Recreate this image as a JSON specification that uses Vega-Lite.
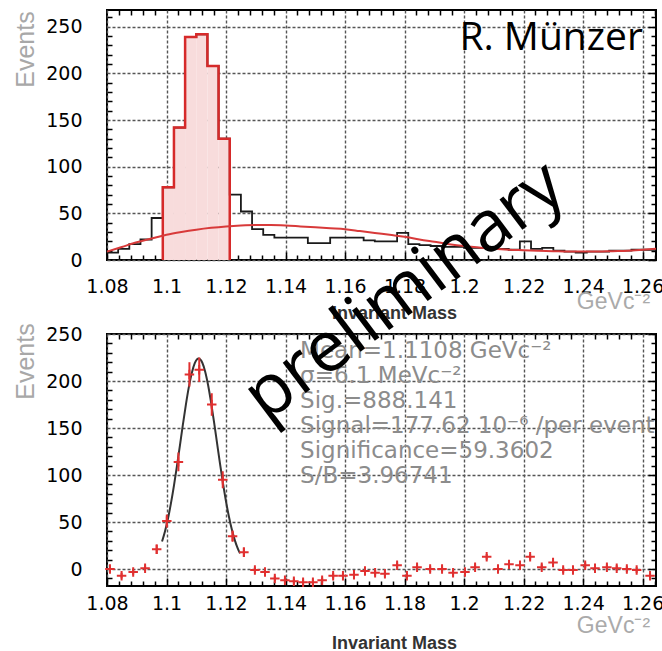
{
  "$schema": "https://vega.github.io/schema/vega-lite/v6.json",
  "padding": {"left": 12, "top": 7, "right": 0, "bottom": 0},
  "background": "white",
  "bounds": "flush",
  "spacing": 74,
  "config": {
    "font": "Liberation Sans",
    "view": {"stroke": "#000", "strokeWidth": 2},
    "axis": {
      "labelFont": "DejaVu Sans", "labelFontSize": 19, "labelColor": "#000",
      "ticks": true, "tickSize": 0,
      "domain": false, "labelFlush": false, "labelOverlap": false,
      "titleFont": "Liberation Sans"
    }
  },
  "datasets": {
    "hist": [
      {"x": 1.08, "n": 8}, {"x": 1.08375, "n": 12}, {"x": 1.0875, "n": 17}, {"x": 1.09125, "n": 22},
      {"x": 1.095, "n": 45}, {"x": 1.09875, "n": 78}, {"x": 1.1025, "n": 142}, {"x": 1.10625, "n": 239},
      {"x": 1.11, "n": 242}, {"x": 1.11375, "n": 208}, {"x": 1.1175, "n": 130}, {"x": 1.12125, "n": 70},
      {"x": 1.125, "n": 52}, {"x": 1.12875, "n": 33}, {"x": 1.1325, "n": 27}, {"x": 1.13625, "n": 24},
      {"x": 1.14, "n": 24}, {"x": 1.14375, "n": 24}, {"x": 1.1475, "n": 18}, {"x": 1.15125, "n": 18},
      {"x": 1.155, "n": 24}, {"x": 1.15875, "n": 24}, {"x": 1.1625, "n": 24}, {"x": 1.16625, "n": 21},
      {"x": 1.17, "n": 20}, {"x": 1.17375, "n": 20}, {"x": 1.1775, "n": 29}, {"x": 1.18125, "n": 17},
      {"x": 1.185, "n": 16}, {"x": 1.18875, "n": 15}, {"x": 1.1925, "n": 14}, {"x": 1.19625, "n": 14},
      {"x": 1.2, "n": 13}, {"x": 1.20375, "n": 13}, {"x": 1.2075, "n": 12}, {"x": 1.21125, "n": 12},
      {"x": 1.215, "n": 11}, {"x": 1.21875, "n": 20}, {"x": 1.2225, "n": 12}, {"x": 1.22625, "n": 13},
      {"x": 1.23, "n": 10}, {"x": 1.23375, "n": 9}, {"x": 1.2375, "n": 8}, {"x": 1.24125, "n": 9},
      {"x": 1.245, "n": 9}, {"x": 1.24875, "n": 10}, {"x": 1.2525, "n": 10}, {"x": 1.25625, "n": 11},
      {"x": 1.26, "n": 11}, {"x": 1.2645, "n": 11}
    ],
    "sig": [
      {"i": 0, "x": 1.09875, "n": 0}, {"i": 1, "x": 1.09875, "n": 78}, {"i": 2, "x": 1.1025, "n": 142},
      {"i": 3, "x": 1.10625, "n": 239}, {"i": 4, "x": 1.11, "n": 242}, {"i": 5, "x": 1.11375, "n": 208},
      {"i": 6, "x": 1.1175, "n": 130}, {"i": 7, "x": 1.12125, "n": 0}
    ],
    "fit": [
      {"x": 1.08, "n": 9}, {"x": 1.085, "n": 14}, {"x": 1.09, "n": 19}, {"x": 1.095, "n": 23},
      {"x": 1.1, "n": 27}, {"x": 1.105, "n": 30}, {"x": 1.11, "n": 32.5}, {"x": 1.115, "n": 34.5},
      {"x": 1.12, "n": 36}, {"x": 1.125, "n": 37}, {"x": 1.13, "n": 37.5}, {"x": 1.135, "n": 37.5},
      {"x": 1.14, "n": 37}, {"x": 1.145, "n": 36}, {"x": 1.15, "n": 35}, {"x": 1.155, "n": 34},
      {"x": 1.16, "n": 33}, {"x": 1.165, "n": 31}, {"x": 1.17, "n": 29}, {"x": 1.175, "n": 27},
      {"x": 1.18, "n": 25}, {"x": 1.185, "n": 22}, {"x": 1.19, "n": 19.5}, {"x": 1.195, "n": 17},
      {"x": 1.2, "n": 15}, {"x": 1.205, "n": 13.5}, {"x": 1.21, "n": 12}, {"x": 1.215, "n": 11},
      {"x": 1.22, "n": 10.5}, {"x": 1.225, "n": 10}, {"x": 1.23, "n": 9.5}, {"x": 1.235, "n": 9},
      {"x": 1.24, "n": 9}, {"x": 1.245, "n": 9}, {"x": 1.25, "n": 9.5}, {"x": 1.255, "n": 10},
      {"x": 1.26, "n": 11}, {"x": 1.2645, "n": 12}
    ],
    "pts": [
      {"x": 1.081, "n": 0, "err": 3}, {"x": 1.0849, "n": -7, "err": 3}, {"x": 1.0888, "n": -3, "err": 3},
      {"x": 1.0928, "n": 1, "err": 3}, {"x": 1.0967, "n": 21, "err": 5}, {"x": 1.1001, "n": 51, "err": 7},
      {"x": 1.104, "n": 114, "err": 10}, {"x": 1.1077, "n": 207, "err": 13}, {"x": 1.111, "n": 212, "err": 13},
      {"x": 1.1152, "n": 175, "err": 12}, {"x": 1.1189, "n": 95, "err": 9}, {"x": 1.1222, "n": 35, "err": 6},
      {"x": 1.126, "n": 18, "err": 5}, {"x": 1.1297, "n": -1, "err": 3}, {"x": 1.1331, "n": -3, "err": 3},
      {"x": 1.1364, "n": -10, "err": 3}, {"x": 1.1398, "n": -12, "err": 3}, {"x": 1.1428, "n": -13, "err": 3},
      {"x": 1.1459, "n": -14, "err": 3}, {"x": 1.1492, "n": -14, "err": 3}, {"x": 1.1523, "n": -12, "err": 3},
      {"x": 1.156, "n": -7, "err": 3}, {"x": 1.1593, "n": -7, "err": 3}, {"x": 1.163, "n": -6, "err": 3},
      {"x": 1.1667, "n": -2, "err": 3}, {"x": 1.1701, "n": -4, "err": 3}, {"x": 1.1734, "n": -5, "err": 3},
      {"x": 1.1775, "n": 4, "err": 3}, {"x": 1.1808, "n": -7, "err": 3}, {"x": 1.1842, "n": 2, "err": 3},
      {"x": 1.1886, "n": 0, "err": 3}, {"x": 1.1926, "n": 0, "err": 3}, {"x": 1.1963, "n": -4, "err": 3},
      {"x": 1.2003, "n": -3, "err": 3}, {"x": 1.2037, "n": 2, "err": 3}, {"x": 1.2076, "n": 13, "err": 3},
      {"x": 1.2114, "n": 0, "err": 3}, {"x": 1.2151, "n": 5, "err": 3}, {"x": 1.2188, "n": 4, "err": 3},
      {"x": 1.2222, "n": 13, "err": 3}, {"x": 1.2261, "n": 2, "err": 3}, {"x": 1.2299, "n": 7, "err": 3},
      {"x": 1.2333, "n": -1, "err": 3}, {"x": 1.2366, "n": -1, "err": 3}, {"x": 1.2407, "n": 4, "err": 3},
      {"x": 1.244, "n": 1, "err": 3}, {"x": 1.248, "n": 2, "err": 3}, {"x": 1.2513, "n": 1, "err": 3},
      {"x": 1.2547, "n": 0, "err": 3}, {"x": 1.258, "n": -1, "err": 3}, {"x": 1.2625, "n": -7, "err": 3}
    ],
    "gaus": [
      {"x": 1.0985, "n": 29.3}, {"x": 1.0995, "n": 40.3}, {"x": 1.1005, "n": 53.8}, {"x": 1.1015, "n": 70.1},
      {"x": 1.1025, "n": 88.8}, {"x": 1.1035, "n": 109.5}, {"x": 1.1045, "n": 131.4}, {"x": 1.1055, "n": 153.6},
      {"x": 1.1065, "n": 174.7}, {"x": 1.1075, "n": 193.5}, {"x": 1.1085, "n": 208.6}, {"x": 1.1095, "n": 219},
      {"x": 1.1108, "n": 224}, {"x": 1.112, "n": 219.7}, {"x": 1.113, "n": 209.9}, {"x": 1.114, "n": 195.2},
      {"x": 1.115, "n": 176.7}, {"x": 1.116, "n": 155.8}, {"x": 1.117, "n": 133.7}, {"x": 1.118, "n": 111.6},
      {"x": 1.119, "n": 90.8}, {"x": 1.12, "n": 71.9}, {"x": 1.121, "n": 55.4}, {"x": 1.122, "n": 41.5},
      {"x": 1.123, "n": 30.3}, {"x": 1.124, "n": 21.5}, {"x": 1.1247, "n": 16.7}
    ],
    "one": [{}]
  },
  "vconcat": [
    {
      "width": 549, "height": 250,
      "resolve": {"axis": {"x": "independent", "y": "independent"}},
      "layer": [
        {
          "data": {"name": "sig"},
          "mark": {"type": "area", "interpolate": "step-after", "color": "#f8dcdc"},
          "encoding": {
            "order": {"field": "i"},
            "x": {"field": "x", "type": "quantitative",
              "scale": {"domain": [1.08, 1.2645], "nice": false, "zero": false},
              "axis": {
                "orient": "bottom",
                "values": [1.08,1.084,1.088,1.092,1.096,1.1,1.104,1.108,1.112,1.116,1.12,1.124,1.128,1.132,1.136,1.14,1.144,1.148,1.152,1.156,1.16,1.164,1.168,1.172,1.176,1.18,1.184,1.188,1.192,1.196,1.2,1.204,1.208,1.212,1.216,1.22,1.224,1.228,1.232,1.236,1.24,1.244,1.248,1.252,1.256,1.26,1.264],
                "labelExpr": "abs(datum.value*50-round(datum.value*50))<0.001 ? format(datum.value,'~g') : ''",
                "grid": true,
                "gridDash": {"condition": {"test": "abs(datum.value*50-round(datum.value*50))<0.001", "value": [3, 2]}, "value": [5, 2000]},
                "gridColor": {"condition": {"test": "abs(datum.value*50-round(datum.value*50))<0.001", "value": "#555"}, "value": "#000"},
                "gridWidth": {"condition": {"test": "abs(datum.value*50-round(datum.value*50))<0.001", "value": 1.4}, "value": 1.5},
                "labelPadding": 17,
                "title": "Invariant Mass", "titleFontWeight": "bold", "titleFontSize": 18, "titleColor": "#333",
                "titleX": 287, "titleY": 53, "titleBaseline": "middle", "titleAlign": "center"
              }
            },
            "y": {"field": "n", "type": "quantitative",
              "scale": {"domain": [0, 268], "nice": false, "zero": false},
              "axis": {
                "orient": "left",
                "values": [0,10,20,30,40,50,60,70,80,90,100,110,120,130,140,150,160,170,180,190,200,210,220,230,240,250,260],
                "labelExpr": "datum.value % 50 == 0 ? format(datum.value,'d') : ''",
                "grid": true,
                "gridDash": {"condition": {"test": "datum.value % 50 == 0", "value": [3, 2]}, "value": [5, 2000]},
                "gridColor": {"condition": {"test": "datum.value % 50 == 0", "value": "#555"}, "value": "#000"},
                "gridWidth": {"condition": {"test": "datum.value % 50 == 0", "value": 1.4}, "value": 1.5},
                "labelPadding": 25,
                "title": "Events", "titleFontWeight": "normal", "titleFontSize": 25, "titleColor": "#a8a8a8",
                "titleX": -82, "titleY": 39, "titleAngle": 270, "titleAlign": "center", "titleBaseline": "middle"
              }
            }
          }
        },
        {
          "data": {"name": "hist"},
          "mark": {"type": "line", "interpolate": "step-after", "color": "#1a1a1a", "strokeWidth": 1.8},
          "encoding": {
            "x": {"field": "x", "type": "quantitative", "axis": null},
            "y": {"field": "n", "type": "quantitative", "axis": null}
          }
        },
        {
          "data": {"name": "sig"},
          "mark": {"type": "line", "interpolate": "step-after", "color": "#d62a2a", "strokeWidth": 2.5},
          "encoding": {
            "order": {"field": "i"},
            "x": {"field": "x", "type": "quantitative", "axis": null},
            "y": {"field": "n", "type": "quantitative", "axis": null}
          }
        },
        {
          "data": {"name": "fit"},
          "mark": {"type": "line", "interpolate": "monotone", "color": "#d83a3a", "strokeWidth": 2},
          "encoding": {
            "x": {"field": "x", "type": "quantitative",
              "axis": {"orient": "top", "labels": false, "title": null, "grid": true, "gridColor": "#000", "gridWidth": 1.5,
                "gridDash": {"condition": {"test": "abs(datum.value*50-round(datum.value*50))<0.001", "value": [8, 2000]}, "value": [5, 2000]},
                "values": [1.08,1.084,1.088,1.092,1.096,1.1,1.104,1.108,1.112,1.116,1.12,1.124,1.128,1.132,1.136,1.14,1.144,1.148,1.152,1.156,1.16,1.164,1.168,1.172,1.176,1.18,1.184,1.188,1.192,1.196,1.2,1.204,1.208,1.212,1.216,1.22,1.224,1.228,1.232,1.236,1.24,1.244,1.248,1.252,1.256,1.26,1.264]}},
            "y": {"field": "n", "type": "quantitative",
              "axis": {"orient": "right", "labels": false, "title": null, "grid": true, "gridColor": "#000", "gridWidth": 1.5,
                "gridDash": {"condition": {"test": "datum.value % 50 == 0", "value": [8, 2000]}, "value": [5, 2000]},
                "values": [0,10,20,30,40,50,60,70,80,90,100,110,120,130,140,150,160,170,180,190,200,210,220,230,240,250,260]}}
          }
        },
        {
          "data": {"name": "one"},
          "mark": {"type": "text", "text": "R. Münzer", "font": "Open Sans", "fontSize": 39, "align": "right", "baseline": "alphabetic", "color": "#000"},
          "encoding": {
            "x": {"datum": 1.2601, "type": "quantitative", "axis": null},
            "y": {"datum": 225, "type": "quantitative", "axis": null}
          }
        },
        {
          "data": {"name": "one"},
          "mark": {"type": "text", "text": "GeVc⁻²", "font": "Liberation Sans", "fontSize": 23, "align": "right", "baseline": "alphabetic", "color": "#aaaaaa"},
          "encoding": {
            "x": {"datum": 1.2625, "type": "quantitative", "axis": null},
            "y": {"datum": -52.5, "type": "quantitative", "axis": null}
          }
        }
      ]
    },
    {
      "width": 549, "height": 252,
      "resolve": {"axis": {"x": "independent", "y": "independent"}},
      "layer": [
        {
          "data": {"name": "gaus"},
          "mark": {"type": "line", "interpolate": "monotone", "color": "#333", "strokeWidth": 2},
          "encoding": {
            "x": {"field": "x", "type": "quantitative",
              "scale": {"domain": [1.08, 1.2645], "nice": false, "zero": false},
              "axis": {
                "orient": "bottom",
                "values": [1.08,1.084,1.088,1.092,1.096,1.1,1.104,1.108,1.112,1.116,1.12,1.124,1.128,1.132,1.136,1.14,1.144,1.148,1.152,1.156,1.16,1.164,1.168,1.172,1.176,1.18,1.184,1.188,1.192,1.196,1.2,1.204,1.208,1.212,1.216,1.22,1.224,1.228,1.232,1.236,1.24,1.244,1.248,1.252,1.256,1.26,1.264],
                "labelExpr": "abs(datum.value*50-round(datum.value*50))<0.001 ? format(datum.value,'~g') : ''",
                "grid": true,
                "gridDash": {"condition": {"test": "abs(datum.value*50-round(datum.value*50))<0.001", "value": [3, 2]}, "value": [5, 2000]},
                "gridColor": {"condition": {"test": "abs(datum.value*50-round(datum.value*50))<0.001", "value": "#555"}, "value": "#000"},
                "gridWidth": {"condition": {"test": "abs(datum.value*50-round(datum.value*50))<0.001", "value": 1.4}, "value": 1.5},
                "labelPadding": 8,
                "title": "Invariant Mass", "titleFontWeight": "bold", "titleFontSize": 18, "titleColor": "#333",
                "titleX": 287, "titleY": 57, "titleBaseline": "middle", "titleAlign": "center"
              }
            },
            "y": {"field": "n", "type": "quantitative",
              "scale": {"domain": [-18, 250], "nice": false, "zero": false},
              "axis": {
                "orient": "left",
                "values": [-10,0,10,20,30,40,50,60,70,80,90,100,110,120,130,140,150,160,170,180,190,200,210,220,230,240,250],
                "labelExpr": "datum.value % 50 == 0 ? format(datum.value,'d') : ''",
                "grid": true,
                "gridDash": {"condition": {"test": "datum.value % 50 == 0", "value": [3, 2]}, "value": [5, 2000]},
                "gridColor": {"condition": {"test": "datum.value % 50 == 0", "value": "#555"}, "value": "#000"},
                "gridWidth": {"condition": {"test": "datum.value % 50 == 0", "value": 1.4}, "value": 1.5},
                "labelPadding": 25,
                "title": "Events", "titleFontWeight": "normal", "titleFontSize": 25, "titleColor": "#a8a8a8",
                "titleX": -82, "titleY": 27, "titleAngle": 270, "titleAlign": "center", "titleBaseline": "middle"
              }
            }
          }
        },
        {
          "data": {"name": "pts"},
          "mark": {"type": "errorbar", "color": "#e03030", "rule": {"strokeWidth": 2}},
          "encoding": {
            "x": {"field": "x", "type": "quantitative", "axis": null},
            "y": {"field": "n", "type": "quantitative", "axis": null},
            "yError": {"field": "err"}
          }
        },
        {
          "data": {"name": "pts"},
          "mark": {"type": "point", "shape": "M-1,0L1,0M0,-1L0,1", "size": 90, "filled": false, "stroke": "#e03030", "strokeWidth": 2, "opacity": 1},
          "encoding": {
            "x": {"field": "x", "type": "quantitative",
              "axis": {"orient": "top", "labels": false, "title": null, "grid": true, "gridColor": "#000", "gridWidth": 1.5,
                "gridDash": {"condition": {"test": "abs(datum.value*50-round(datum.value*50))<0.001", "value": [8, 2000]}, "value": [5, 2000]},
                "values": [1.08,1.084,1.088,1.092,1.096,1.1,1.104,1.108,1.112,1.116,1.12,1.124,1.128,1.132,1.136,1.14,1.144,1.148,1.152,1.156,1.16,1.164,1.168,1.172,1.176,1.18,1.184,1.188,1.192,1.196,1.2,1.204,1.208,1.212,1.216,1.22,1.224,1.228,1.232,1.236,1.24,1.244,1.248,1.252,1.256,1.26,1.264]}},
            "y": {"field": "n", "type": "quantitative",
              "axis": {"orient": "right", "labels": false, "title": null, "grid": true, "gridColor": "#000", "gridWidth": 1.5,
                "gridDash": {"condition": {"test": "datum.value % 50 == 0", "value": [8, 2000]}, "value": [5, 2000]},
                "values": [-10,0,10,20,30,40,50,60,70,80,90,100,110,120,130,140,150,160,170,180,190,200,210,220,230,240,250]}}
          }
        },
        {
          "data": {"name": "one"},
          "mark": {"type": "text", "text": ["Mean=1.1108 GeVc⁻²", "σ=6.1 MeVc⁻²", "Sig.=888.141", "Signal=177.62 10⁻⁶ /per event", "Significance=59.3602", "S/B=3.96741"],
            "font": "DejaVu Sans", "fontSize": 23, "lineHeight": 25, "align": "left", "baseline": "alphabetic", "color": "#8c8c8c"},
          "encoding": {
            "x": {"datum": 1.1449, "type": "quantitative", "axis": null},
            "y": {"datum": 225, "type": "quantitative", "axis": null}
          }
        },
        {
          "data": {"name": "one"},
          "mark": {"type": "text", "text": "GeVc⁻²", "font": "Liberation Sans", "fontSize": 23, "align": "right", "baseline": "alphabetic", "color": "#aaaaaa"},
          "encoding": {
            "x": {"datum": 1.2625, "type": "quantitative", "axis": null},
            "y": {"datum": -67.5, "type": "quantitative", "axis": null}
          }
        },
        {
          "data": {"name": "one"},
          "mark": {"type": "text", "text": "preliminary", "font": "Open Sans", "fontSize": 71, "angle": 323, "align": "center", "baseline": "middle", "color": "#000"},
          "encoding": {
            "x": {"datum": 1.1801, "type": "quantitative", "axis": null},
            "y": {"datum": 294.6, "type": "quantitative", "axis": null}
          }
        }
      ]
    }
  ]
}
